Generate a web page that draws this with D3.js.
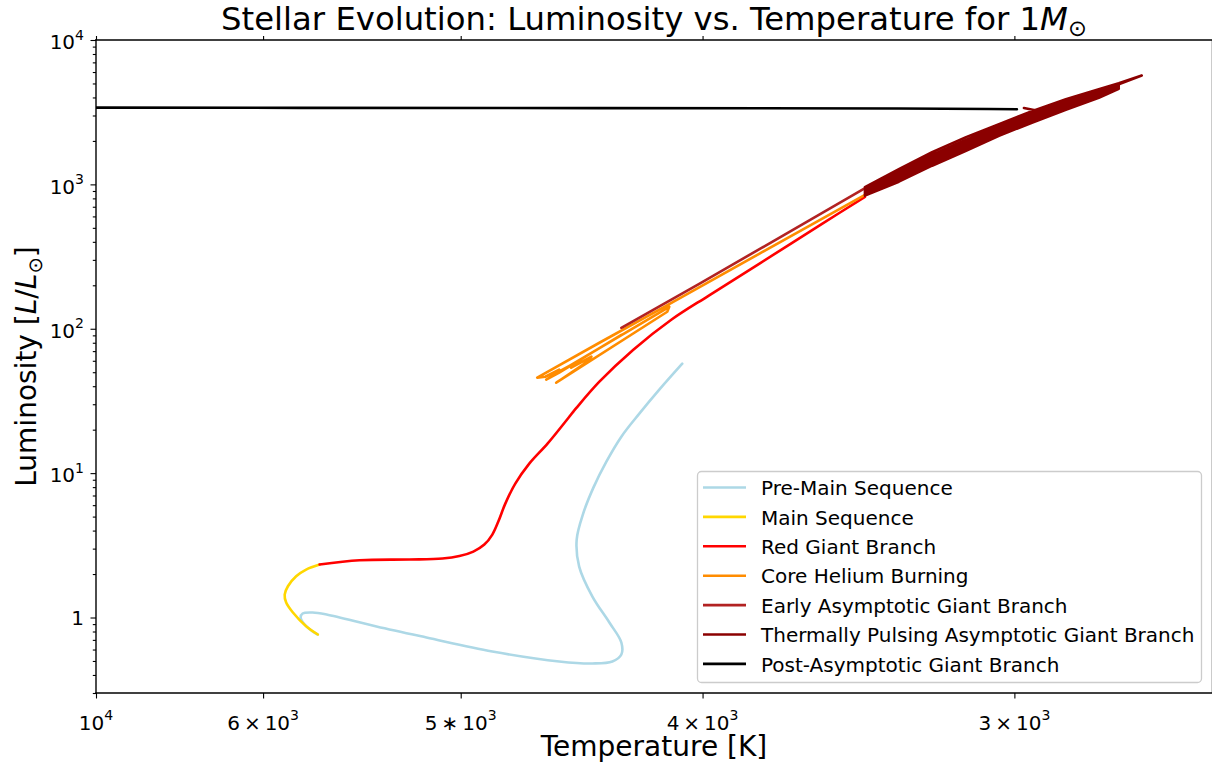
<!DOCTYPE html>
<html>
<head>
<meta charset="utf-8">
<script src="https://cdn.jsdelivr.net/npm/d3@7"></script>
<style>
  html, body { margin: 0; padding: 0; background: #ffffff; }
  svg { display: block; font-family: "DejaVu Sans", sans-serif; }
</style>
</head>
<body>
<svg id="chart" width="1212" height="764"></svg>
<script>
// Evolutionary track of a 1 solar-mass star.
// Each point is [log10 Teff (K), log10 L/Lsun].
const preMainSequence = [
  [3.6102, 1.7578], [3.6194, 1.5779], [3.6274, 1.4118], [3.6346, 1.2526],
  [3.6406, 1.0796], [3.6458, 0.8997], [3.6499, 0.7197], [3.6525, 0.5398],
  [3.6515, 0.3529], [3.6462, 0.1453], [3.6394, -0.0346], [3.6346, -0.1730],
  [3.6346, -0.2561], [3.6382, -0.3045], [3.6462, -0.3183], [3.6595, -0.3045],
  [3.6863, -0.2353], [3.7127, -0.1384], [3.7327, -0.0623], [3.7527, 0.0208],
  [3.7583, 0.0346], [3.7623, 0.0277], [3.7631, 0.0000], [3.7615, -0.0484],
  [3.7583, -0.0969], [3.7563, -0.1177]
];

const mainSequence = [
  [3.7562, -0.1177], [3.7609, -0.0602], [3.7662, 0.0346], [3.7689, 0.1038],
  [3.7695, 0.1592], [3.7682, 0.2166], [3.7649, 0.2858], [3.7609, 0.3322],
  [3.7555, 0.3668]
];

const redGiantBranch = [
  [3.7555, 0.3668], [3.7395, 0.3965], [3.7195, 0.4014], [3.7063, 0.4083],
  [3.6995, 0.4256], [3.6939, 0.4568], [3.6895, 0.5052], [3.6863, 0.5744],
  [3.6839, 0.6644], [3.6811, 0.7889], [3.6771, 0.9273], [3.6715, 1.0657],
  [3.6641, 1.2062], [3.6537, 1.4291], [3.6553, 1.3945], [3.6527, 1.4498],
  [3.6434, 1.6332], [3.6298, 1.8547], [3.6146, 2.0623], [3.5994, 2.2318],
  [3.5794, 2.4498], [3.5542, 2.7266], [3.5370, 2.9135]
];

const coreHeliumBurning = [
  [3.5370, 2.9273], [3.5794, 2.5190], [3.6174, 2.1523], [3.6434, 1.9031],
  [3.6683, 1.6609], [3.6651, 1.6678], [3.6595, 1.7163], [3.6611, 1.6886],
  [3.6523, 1.7716], [3.6547, 1.7301], [3.6466, 1.8062], [3.6495, 1.7578],
  [3.6607, 1.6263], [3.6162, 2.1177], [3.6154, 2.1523], [3.6647, 1.6471],
  [3.6595, 1.6955], [3.6346, 1.9585]
];

const earlyAGB = [
  [3.6346, 2.0069], [3.6034, 2.3114], [3.5714, 2.6298], [3.5354, 2.9896]
];

const thermallyPulsingAGB = [
  [3.5354, 2.9896],
  [3.5370, 2.9813], [3.5234, 3.1059], [3.5101, 3.2235], [3.4965, 3.3273], [3.4833, 3.4173],
  [3.4701, 3.5073], [3.4565, 3.5903], [3.4433, 3.6595], [3.4353, 3.7010], [3.4261, 3.7543],
  [3.4353, 3.6933], [3.4433, 3.6476], [3.4565, 3.5756], [3.4701, 3.4912], [3.4833, 3.4013],
  [3.4965, 3.3085], [3.5101, 3.2047], [3.5234, 3.0885], [3.5370, 2.9694],
  [3.5370, 2.9575], [3.5234, 3.0710], [3.5101, 3.1859], [3.4965, 3.2897], [3.4833, 3.3852],
  [3.4701, 3.4752], [3.4565, 3.5610], [3.4433, 3.6357], [3.4353, 3.6855],
  [3.4353, 3.6778], [3.4433, 3.6238], [3.4565, 3.5463], [3.4701, 3.4591], [3.4833, 3.3691],
  [3.4965, 3.2709], [3.5101, 3.1671], [3.5234, 3.0536], [3.5370, 2.9456],
  [3.5370, 2.9337], [3.5234, 3.0361], [3.5101, 3.1482], [3.4965, 3.2520], [3.4833, 3.3531],
  [3.4701, 3.4431], [3.4565, 3.5316], [3.4433, 3.6119], [3.4353, 3.6700],
  [3.4353, 3.6623], [3.4433, 3.6000], [3.4565, 3.5170], [3.4701, 3.4270], [3.4833, 3.3370],
  [3.4965, 3.2332], [3.5101, 3.1294], [3.5234, 3.0187], [3.5370, 2.9218],
  [3.5370, 2.9516], [3.5234, 3.0623], [3.5101, 3.1765], [3.4965, 3.2803], [3.4833, 3.3772],
  [3.4701, 3.4671], [3.4673, 3.5087], [3.4733, 3.5294]
];

const postAGB = [
  [3.4761, 3.5204], [3.4873, 3.5225], [3.5234, 3.5260], [3.6434, 3.5280],
  [3.7635, 3.5301], [3.8452, 3.5315], [3.8500, 3.5316]
];

const phaseNames = [
  "Pre-Main Sequence", "Main Sequence", "Red Giant Branch", "Core Helium Burning",
  "Early Asymptotic Giant Branch", "Thermally Pulsing Asymptotic Giant Branch",
  "Post-Asymptotic Giant Branch"
];
const phaseColors = ["#add8e6", "#ffd700", "#ff0000", "#ff8c00", "#b22222", "#8b0000", "#000000"];

// Temperature ticks and their labels as [mantissa text, exponent]
const xTickValues = [7000, 6000, 5000, 4000, 3000];
const xTickLabels = [
  ["10", "4"], ["6\u2009\u00d7\u200910", "3"], ["5\u2009\u2217\u200910", "3"],
  ["4\u2009\u00d7\u200910", "3"], ["3\u2009\u00d7\u200910", "3"]
];
const yTickValues = [1e4, 1e3, 1e2, 1e1, 1];
const yTickLabels = [["10", "4"], ["10", "3"], ["10", "2"], ["10", "1"], ["1", ""]];

// ---------------------------------------------------------------
const plot = { left: 96, top: 40, right: 1212, bottom: 693 };
const tickFont = 20;
const legendFont = 20;
const labelFont = 28;
const titleFont = 32.3;

const svg = d3.select("#chart");

const x = d3.scaleLog().domain([7000, 2500]).range([plot.left, plot.right]);
const y = d3.scaleLog().domain([0.3, 1e4]).range([plot.bottom, plot.top]);

svg.append("clipPath").attr("id", "plot-area")
  .append("rect")
  .attr("x", plot.left).attr("y", plot.top)
  .attr("width", plot.right - plot.left).attr("height", plot.bottom - plot.top);

const phaseData = [preMainSequence, mainSequence, redGiantBranch, coreHeliumBurning,
                   earlyAGB, thermallyPulsingAGB, postAGB];
const smoothPhase = [true, true, true, false, false, false, false];

const phases = phaseNames.map((name, i) => ({
  name, color: phaseColors[i], data: phaseData[i], smooth: smoothPhase[i]
}));

const tracks = svg.append("g").attr("clip-path", "url(#plot-area)");
phases.forEach(p => {
  const line = d3.line()
    .x(d => x(Math.pow(10, d[0])))
    .y(d => y(Math.pow(10, d[1])))
    .curve(p.smooth ? d3.curveCatmullRom.alpha(0.5) : d3.curveLinear);
  tracks.append("path")
    .datum(p.data)
    .attr("d", line)
    .attr("fill", "none")
    .attr("stroke", p.color)
    .attr("stroke-width", 2.6)
    .attr("stroke-linejoin", "round")
    .attr("stroke-linecap", "round");
});

// ---- axes ----
function styleTicks(g) {
  g.select(".domain").remove();
  g.selectAll(".tick line").attr("stroke", "#000").attr("stroke-width", 1.1);
  g.selectAll(".tick text").remove();
}

svg.append("g").attr("transform", `translate(0,${plot.bottom})`)
  .call(d3.axisBottom(x).tickValues(xTickValues).tickSize(5.5).tickFormat(() => ""))
  .call(styleTicks);

svg.append("g").attr("transform", `translate(0,${plot.top})`)
  .call(d3.axisTop(x).tickValues(xTickValues).tickSize(4).tickFormat(() => ""))
  .call(styleTicks);

svg.append("g").attr("transform", `translate(${plot.left},0)`)
  .call(d3.axisLeft(y).tickValues(yTickValues).tickSize(5.5).tickFormat(() => ""))
  .call(styleTicks);

const minorY = y.ticks().filter(v => {
  const e = Math.log10(v);
  return Math.abs(e - Math.round(e)) > 1e-6 && v >= 0.3 && v <= 1e4;
});
svg.append("g").attr("transform", `translate(${plot.left},0)`)
  .call(d3.axisLeft(y).tickValues(minorY).tickSize(3.2).tickFormat(() => ""))
  .call(styleTicks);

function powerLabel(text, base, exp, fs) {
  text.append("tspan").text(base);
  if (exp) {
    text.append("tspan")
      .attr("font-size", fs * 0.7)
      .attr("dy", -fs * 0.48)
      .text(exp);
  }
}

xTickValues.forEach((v, i) => {
  const t = svg.append("text")
    .attr("x", x(v)).attr("y", plot.bottom + 37)
    .attr("text-anchor", "middle")
    .attr("font-size", tickFont)
    .attr("fill", "#000");
  powerLabel(t, xTickLabels[i][0], xTickLabels[i][1], tickFont);
});

yTickValues.forEach((v, i) => {
  const lbl = yTickLabels[i];
  const t = svg.append("text")
    .attr("x", plot.left - 12).attr("y", y(v) + (lbl[1] ? 9.3 : 7))
    .attr("text-anchor", "end")
    .attr("font-size", tickFont)
    .attr("fill", "#000");
  powerLabel(t, lbl[0], lbl[1], tickFont);
});

// ---- frame ----
const frame = svg.append("g").attr("stroke", "#000").attr("stroke-width", 1.4).attr("fill", "none");
frame.append("line").attr("x1", plot.left).attr("x2", plot.left).attr("y1", plot.top - 0.7).attr("y2", plot.bottom + 0.7);
frame.append("line").attr("x1", plot.left - 0.7).attr("x2", plot.right + 1).attr("y1", plot.bottom).attr("y2", plot.bottom);
frame.append("line").attr("x1", plot.left - 0.7).attr("x2", plot.right + 1).attr("y1", plot.top).attr("y2", plot.top);
frame.append("line").attr("x1", plot.right + 0.5).attr("x2", plot.right + 0.5).attr("y1", plot.top).attr("y2", plot.bottom);

// ---- axis titles ----
svg.append("text")
  .attr("x", (plot.left + plot.right) / 2).attr("y", 756)
  .attr("text-anchor", "middle").attr("font-size", labelFont).attr("fill", "#000")
  .text("Temperature [K]");

const yl = svg.append("text")
  .attr("transform", `translate(36,${(plot.top + plot.bottom) / 2}) rotate(-90)`)
  .attr("text-anchor", "middle").attr("font-size", labelFont).attr("fill", "#000");
yl.append("tspan").text("Luminosity [");
yl.append("tspan").attr("font-style", "italic").text("L");
yl.append("tspan").text("/");
yl.append("tspan").attr("font-style", "italic").text("L");
yl.append("tspan").attr("font-size", labelFont * 0.7).attr("dy", labelFont * 0.2).text("\u2299");
yl.append("tspan").attr("dy", -labelFont * 0.2).text("]");

const title = svg.append("text")
  .attr("x", (plot.left + plot.right) / 2).attr("y", 30)
  .attr("text-anchor", "middle").attr("font-size", titleFont).attr("fill", "#000");
title.append("tspan").text("Stellar Evolution: Luminosity vs. Temperature for 1");
title.append("tspan").attr("font-style", "italic").text("M");
title.append("tspan").attr("font-size", titleFont * 0.7).attr("dy", titleFont * 0.2).text("\u2299");

// ---- legend ----
const legend = svg.append("g");
legend.append("rect")
  .attr("x", 697.5).attr("y", 471.5).attr("width", 504).attr("height", 211).attr("rx", 4)
  .attr("fill", "#ffffff").attr("fill-opacity", 0.8)
  .attr("stroke", "#cccccc").attr("stroke-width", 1.3);
phases.forEach((p, i) => {
  const cy = 487.5 + i * 29.4;
  legend.append("line")
    .attr("x1", 703).attr("x2", 746).attr("y1", cy).attr("y2", cy)
    .attr("stroke", p.color).attr("stroke-width", 2.6);
  legend.append("text")
    .attr("x", 761).attr("y", cy + 7.6)
    .attr("font-size", legendFont).attr("fill", "#000")
    .text(p.name);
});
</script>
</body>
</html>
